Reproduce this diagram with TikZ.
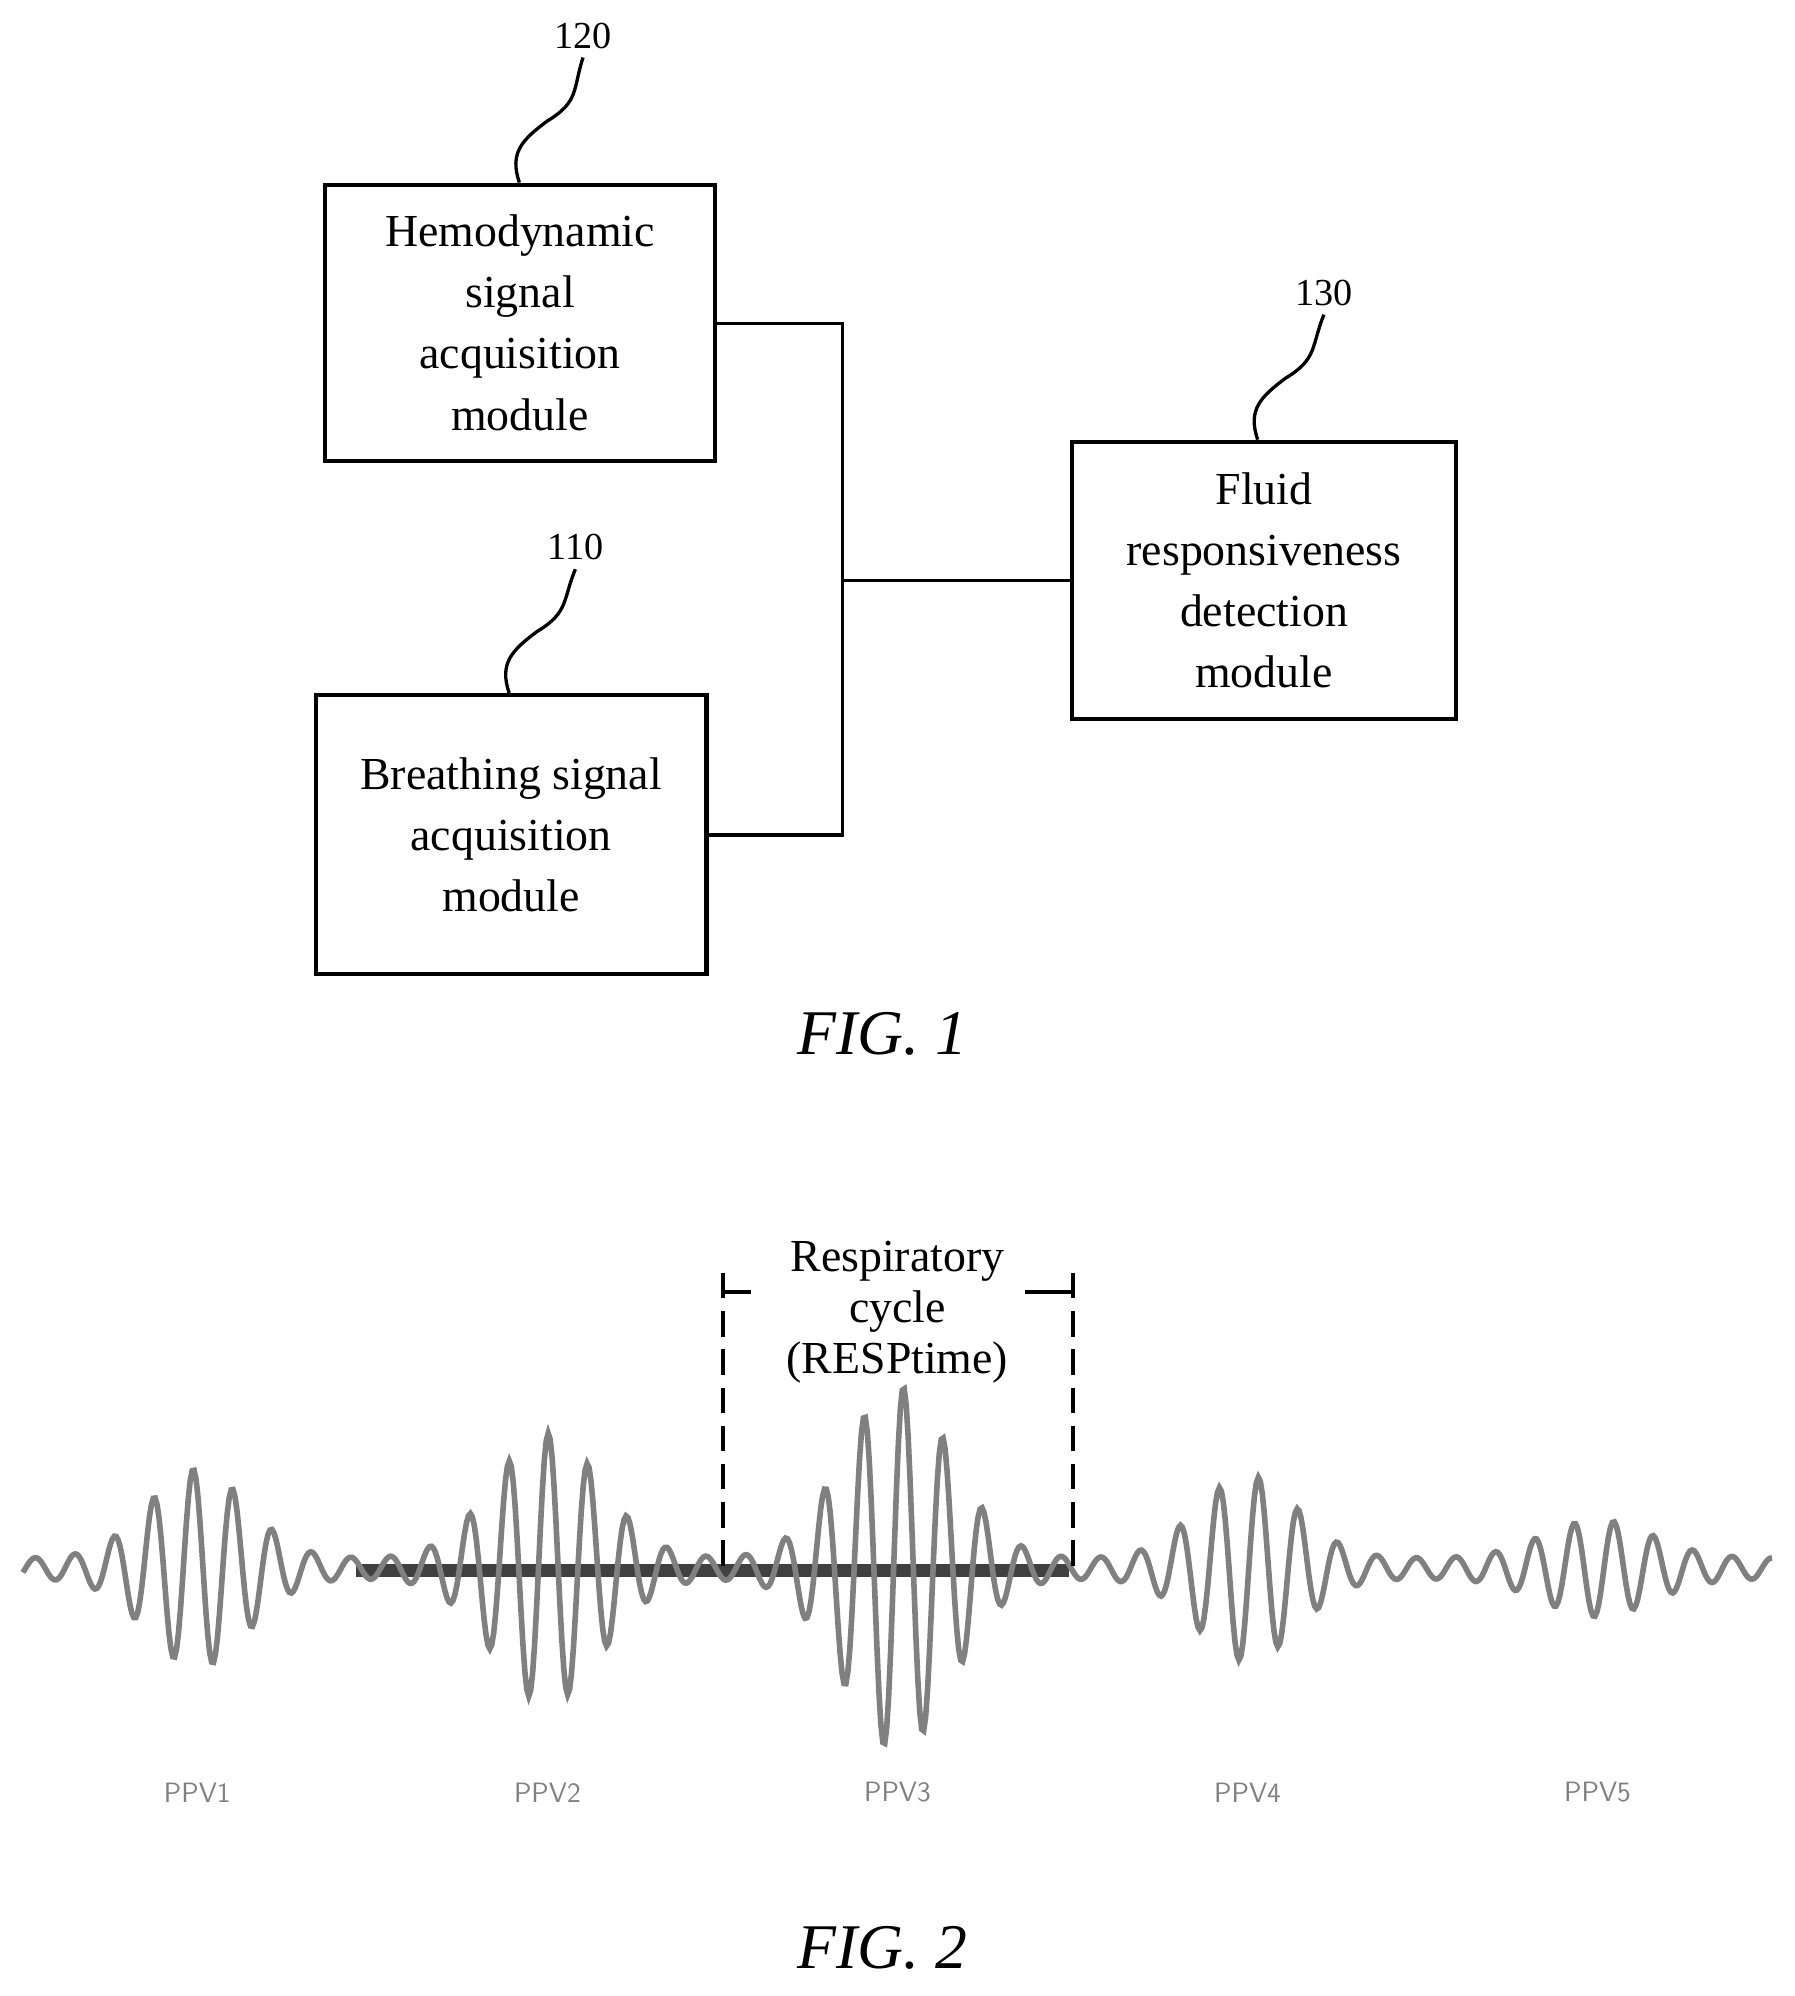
\documentclass[tikz,border=0pt]{standalone}
\usepackage{fontspec}
\setmainfont{Liberation Serif}
\begin{document}
\begin{tikzpicture}[x=0.5pt,y=-0.5pt,
  box/.style={draw,line width=1.6pt,inner sep=0pt,align=center,font=\fontsize{18}{24}\selectfont},
  ln/.style={line width=1.3pt},
  num/.style={font=\fontsize{15}{18}\selectfont},
  ppv/.style={font=\sffamily\fontsize{11}{13}\selectfont,text=gray},
  fig/.style={font=\itshape\fontsize{25}{30}\selectfont},
  declare function={g(\u,\c,\w)=exp(-min(((\u-\c)/\w)^2,20));}]
\useasboundingbox (0,0) rectangle (1410,1568);
\node[box,minimum width=153.5pt,minimum height=108.5pt] (hem) at (408.5,253.5) {Hemodynamic\\signal\\acquisition\\module};
\node[box,minimum width=153.5pt,minimum height=109.5pt] (br) at (401.5,655.5) {Breathing signal\\acquisition\\module};
\node[box,minimum width=151pt,minimum height=109pt] (fl) at (993,456) {Fluid\\responsiveness\\detection\\module};
\coordinate (j1) at (662,254);
\coordinate (j2) at (662,656);
\coordinate (j3) at (662,456);
\draw[ln] (hem.east |- j1) -- (j1) -- (j2) -- (br.east |- j2);
\draw[ln] (j3) -- (fl.west |- j3);
\node[num] (n120) at (458,28) {120};
\node[num] (n110) at (452,430) {110};
\node[num] (n130) at (1040,230) {130};
\draw[ln] (hem.north -| 408,0) .. controls (400,120) and (410,110) .. (430,95) .. controls (455,80) and (450,70) .. (n120.south);
\draw[ln] (br.north -| 400,0) .. controls (392,521) and (402,511) .. (422,496) .. controls (447,481) and (442,471) .. (n110.south);
\draw[ln] (fl.north -| 988,0) .. controls (980,322) and (990,312) .. (1010,297) .. controls (1035,282) and (1030,272) .. (n130.south);
\node[fig] (f1) at (693,812) {FIG. 1};
% FIG 2
\draw[line width=5pt,black!75] (280,1234) -- (840,1234);
\draw[gray,line width=2.2pt,samples=900,domain=18:1392] plot (\x,{1232-(8+70*g(\x,155,55)+98*g(\x,430,60)+135*g(\x,705,60)+65*g(\x,980,55)+30*g(\x,1255,60))*sin(360*mod(\x-20,31)/31)});
\coordinate (bl) at (568,1000);
\coordinate (br2) at (843,1000);
\draw[line width=1.6pt,dash pattern=on 10pt off 5pt] (bl) -- (568,1230);
\draw[line width=1.6pt,dash pattern=on 10pt off 5pt] (br2) -- (843,1230);
\node[font=\fontsize{18}{20}\selectfont,align=center] (rc) at (705,1031) {Respiratory\\cycle\\(RESPtime)};
\draw[line width=1.6pt] (568,1015) -- (590,1015);
\draw[line width=1.6pt] (805,1015) -- (843,1015);
\node[ppv] (p1) at (155,1408) {PPV1};
\node[ppv] (p2) at (430,1408) {PPV2};
\node[ppv] (p3) at (705,1408) {PPV3};
\node[ppv] (p4) at (980,1408) {PPV4};
\node[ppv] (p5) at (1255,1408) {PPV5};
\node[fig] (f2) at (693,1530) {FIG. 2};
\end{tikzpicture}
\end{document}
